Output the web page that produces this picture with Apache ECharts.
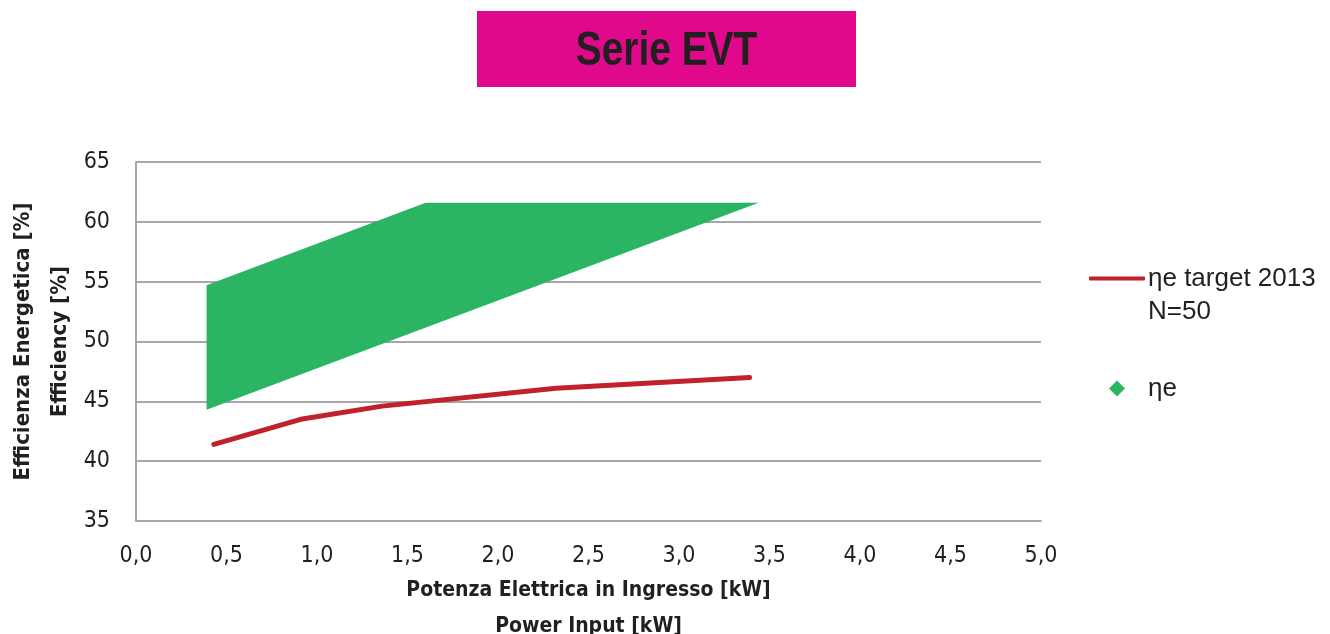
<!DOCTYPE html>
<html>
<head>
<meta charset="utf-8">
<script src="https://cdn.jsdelivr.net/npm/echarts@6/dist/echarts.min.js"></script>
<style>
  html, body { margin: 0; padding: 0; background: #fff; }
  #chart { width: 1330px; height: 634px; }
</style>
</head>
<body>
<div id="chart"></div>
<script>
// target line (ηe target 2013, N=50)
const targetPower = [0.43, 0.91, 1.36, 2.32, 3.39];
const targetEta = [41.4, 43.5, 44.6, 46.1, 47.0];

// ηe band, vertices clockwise
const bandPower = [0.39, 1.60, 3.44, 0.39];
const bandEta = [54.7, 61.6, 61.6, 44.3];

const xTicks = [0, 0.5, 1, 1.5, 2, 2.5, 3, 3.5, 4, 4.5, 5];
const yTicks = [35, 40, 45, 50, 55, 60, 65];

const seriesNames = ['ηe target 2013', 'ηe'];

const narrow = "'Liberation Sans Narrow', 'DejaVu Sans Condensed', sans-serif";
const plain = "'Liberation Sans', Arial, sans-serif";
const gridColor = '#a7a7a9';

const chart = echarts.init(document.getElementById('chart'));

const option = {
  animation: false,
  backgroundColor: '#fff',
  graphic: [
    {
      type: 'rect',
      shape: { x: 477, y: 11, width: 379, height: 76 },
      style: { fill: '#e0098b' }
    },
    {
      type: 'text',
      x: 666.5,
      y: 52,
      scaleX: 0.81,
      style: {
        text: 'Serie EVT',
        fill: '#231f20',
        font: 'bold 48px ' + plain,
        align: 'center',
        verticalAlign: 'middle'
      }
    }
  ],
  grid: {
    left: 136, right: 289, top: 162, bottom: 113,
    containLabel: false, outerBoundsMode: 'none'
  },
  legend: [
    {
      data: [seriesNames[0]],
      left: 1089,
      top: 229,
      padding: 0,
      icon: 'roundRect',
      itemWidth: 56,
      itemHeight: 4,
      formatter: name => '\n' + name + '\nN=50',
      textStyle: {
        fontFamily: plain, fontSize: 26, color: '#231f20',
        lineHeight: 33, padding: [0, 0, 0, -2]
      }
    },
    {
      data: [seriesNames[1]],
      left: 1109,
      top: 372,
      padding: 0,
      icon: 'diamond',
      itemWidth: 16,
      itemHeight: 16,
      textStyle: {
        fontFamily: plain, fontSize: 26, color: '#231f20',
        lineHeight: 33, padding: [0, 0, 0, 18]
      }
    }
  ],
  xAxis: {
    type: 'value',
    min: xTicks[0],
    max: xTicks[xTicks.length - 1],
    interval: 0.5,
    name: 'Potenza Elettrica in Ingresso [kW]\nPower Input [kW]',
    nameLocation: 'middle',
    nameGap: 49,
    nameTextStyle: {
      fontFamily: narrow, fontWeight: 'bold', fontSize: 21,
      color: '#231f20', lineHeight: 36, verticalAlign: 'top'
    },
    axisLine: { lineStyle: { color: gridColor, width: 2 } },
    axisTick: { show: false },
    splitLine: { show: false },
    axisLabel: {
      fontFamily: narrow, fontSize: 23, color: '#231f20', margin: 24,
      formatter: v => v.toFixed(1).replace('.', ',')
    }
  },
  yAxis: {
    type: 'value',
    min: yTicks[0],
    max: yTicks[yTicks.length - 1],
    interval: 5,
    name: 'Efficienza Energetica [%]\nEfficiency [%]',
    nameLocation: 'middle',
    nameRotate: 90,
    nameGap: 57,
    nameMoveOverlap: false,
    nameTextStyle: {
      fontFamily: narrow, fontWeight: 'bold', fontSize: 22,
      color: '#231f20', lineHeight: 37
    },
    axisLine: { show: true, lineStyle: { color: gridColor, width: 2 } },
    axisTick: { show: false },
    splitLine: { lineStyle: { color: gridColor, width: 2 } },
    axisLabel: {
      fontFamily: narrow, fontSize: 23, color: '#231f20', margin: 26
    }
  },
  series: [
    {
      name: seriesNames[1],
      type: 'custom',
      itemStyle: { color: '#2ab463' },
      data: [[bandPower[0], bandEta[0]]],
      renderItem: (params, api) => {
        const pts = bandPower.map((p, i) => api.coord([p, bandEta[i]]));
        return {
          type: 'polygon',
          shape: { points: pts },
          style: { fill: '#2ab463' }
        };
      },
      z: 2
    },
    {
      name: seriesNames[0],
      type: 'line',
      data: targetPower.map((p, i) => [p, targetEta[i]]),
      symbol: 'none',
      itemStyle: { color: '#c1212a' },
      lineStyle: { color: '#c1212a', width: 5, cap: 'round', join: 'round' },
      z: 3
    }
  ]
};

chart.setOption(option);
</script>
</body>
</html>
